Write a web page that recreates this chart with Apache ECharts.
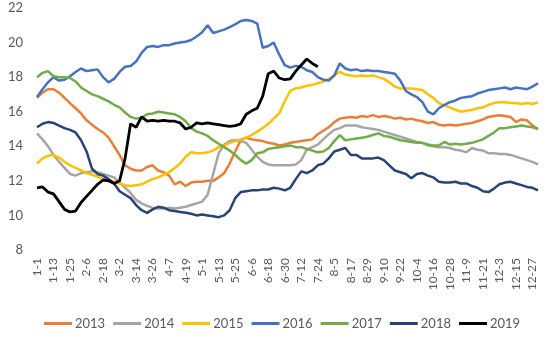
<!DOCTYPE html>
<html>
<head>
<meta charset="utf-8">
<script src="https://cdn.jsdelivr.net/npm/echarts@6/dist/echarts.min.js"></script>
<style>
  html, body { margin: 0; padding: 0; background: #fff; }
  #chart { width: 547px; height: 346px; }
</style>
</head>
<body>
<div id="chart"></div>
<script>
// Day labels every 4 days through the year (month-day)
const monthLengths = [31, 28, 31, 30, 31, 30, 31, 31, 30, 31, 30, 31];
const stepDays = 4;
const pointCount = 92;
function buildDates() {
  const out = [];
  for (let k = 0; k < pointCount; k++) {
    let d = k * stepDays, m = 0;
    while (d >= monthLengths[m]) { d -= monthLengths[m]; m++; }
    out.push((m + 1) + '-' + (d + 1));
  }
  return out;
}
const dates = buildDates();

const years = ['2013', '2014', '2015', '2016', '2017', '2018', '2019'];
const colors = ['#ED7D31', '#A5A5A5', '#FFC000', '#4472C4', '#70AD47', '#264478', '#000000'];

const s2013 = [16.8,17.1,17.3,17.3,17.1,16.8,16.5,16.2,15.9,15.5,15.25,15.0,14.8,14.5,14.0,13.5,12.9,12.7,12.6,12.6,
  12.8,12.9,12.6,12.5,12.3,11.8,11.95,11.7,11.9,11.95,11.95,12.0,12.0,12.2,12.45,13.0,13.7,14.35,14.5,14.4,
  14.35,14.3,14.2,14.15,14.05,14.1,14.2,14.25,14.3,14.35,14.4,14.7,14.9,15.1,15.4,15.6,15.65,15.7,15.65,15.75,
  15.7,15.8,15.7,15.75,15.7,15.6,15.65,15.55,15.6,15.5,15.45,15.35,15.4,15.25,15.2,15.25,15.2,15.25,15.3,15.35,
  15.45,15.55,15.7,15.75,15.8,15.75,15.7,15.4,15.55,15.5,15.2,15.0];
const s2014 = [14.75,14.4,14.0,13.5,13.1,12.75,12.4,12.3,12.45,12.5,12.55,12.5,12.4,12.3,12.2,11.9,11.6,11.3,10.9,10.7,
  10.55,10.45,10.4,10.4,10.45,10.4,10.45,10.5,10.6,10.7,10.8,11.2,12.4,13.6,14.1,14.3,14.35,14.3,14.2,13.8,
  13.4,13.1,12.95,12.9,12.9,12.9,12.9,12.95,13.2,13.8,13.95,14.1,14.4,14.7,14.95,15.05,15.2,15.2,15.2,15.1,
  15.05,15.0,14.95,14.85,14.75,14.65,14.55,14.45,14.35,14.25,14.2,14.05,14.0,13.95,13.95,13.9,13.8,13.75,13.65,13.9,
  13.8,13.75,13.6,13.6,13.55,13.55,13.5,13.4,13.3,13.2,13.1,12.95];
const s2015 = [13.0,13.3,13.45,13.5,13.35,13.1,12.9,12.75,12.6,12.45,12.35,12.25,12.1,12.05,11.95,11.85,11.75,11.7,11.75,11.8,
  11.95,12.1,12.2,12.35,12.5,12.75,13.0,13.4,13.65,13.6,13.6,13.65,13.75,13.95,14.05,14.2,14.3,14.4,14.5,14.65,
  14.85,15.05,15.3,15.6,15.9,16.6,17.2,17.35,17.4,17.5,17.55,17.65,17.75,17.9,18.1,18.3,18.15,18.1,18.05,18.1,
  18.05,18.1,18.0,17.9,17.7,17.45,17.35,17.35,17.35,17.3,17.25,17.0,16.8,16.5,16.35,16.25,16.1,16.0,16.05,16.1,
  16.2,16.25,16.4,16.5,16.55,16.55,16.5,16.5,16.45,16.5,16.45,16.55];
const s2016 = [16.85,17.3,17.7,18.0,17.8,17.85,18.05,18.3,18.5,18.35,18.4,18.45,18.0,17.7,17.9,18.3,18.6,18.65,18.9,19.4,
  19.75,19.8,19.75,19.85,19.85,19.95,20.0,20.05,20.15,20.35,20.6,21.0,20.55,20.65,20.75,20.9,21.05,21.25,21.3,21.25,
  21.1,19.7,19.8,20.0,19.3,18.7,18.55,18.65,18.6,18.4,18.3,18.0,17.85,17.8,18.1,18.8,18.5,18.4,18.45,18.35,
  18.4,18.35,18.35,18.3,18.25,18.2,17.8,17.2,17.0,16.85,16.55,16.0,15.85,16.2,16.4,16.55,16.65,16.8,16.85,16.9,
  17.05,17.15,17.25,17.3,17.35,17.4,17.3,17.4,17.35,17.3,17.45,17.65];
const s2017 = [18.0,18.25,18.35,18.05,18.0,18.0,17.95,17.75,17.4,17.2,17.0,16.9,16.75,16.6,16.4,16.25,15.95,15.7,15.6,15.65,
  15.85,15.9,16.0,15.95,15.9,15.85,15.7,15.45,15.05,14.85,14.75,14.6,14.35,14.15,13.95,13.75,13.5,13.2,13.0,13.2,
  13.6,13.65,13.85,13.9,13.95,14.0,14.05,13.95,13.95,13.85,13.75,13.65,13.7,13.9,14.3,14.65,14.35,14.4,14.45,14.5,
  14.55,14.65,14.75,14.6,14.55,14.45,14.35,14.3,14.25,14.2,14.2,14.1,14.05,14.05,14.25,14.1,14.15,14.1,14.15,14.2,
  14.3,14.4,14.6,14.8,15.05,15.05,15.1,15.15,15.2,15.15,15.1,15.0];
const s2018 = [15.1,15.3,15.4,15.35,15.2,15.05,14.95,14.8,14.35,13.7,12.7,12.4,12.3,12.1,11.85,11.4,11.2,11.0,10.6,10.3,
  10.15,10.35,10.5,10.45,10.3,10.25,10.2,10.15,10.1,10.0,10.05,10.0,9.95,9.9,10.0,10.3,11.0,11.35,11.4,11.45,
  11.45,11.5,11.5,11.6,11.55,11.45,11.6,12.1,12.55,12.45,12.6,12.9,13.0,13.3,13.7,13.8,13.9,13.5,13.5,13.3,
  13.3,13.3,13.35,13.2,12.9,12.6,12.5,12.4,12.15,12.4,12.45,12.3,12.2,11.95,11.9,11.9,11.95,11.85,11.85,11.7,
  11.6,11.4,11.35,11.55,11.8,11.9,11.95,11.85,11.75,11.65,11.6,11.45];
const s2019 = [11.6,11.65,11.35,11.25,10.8,10.35,10.2,10.25,10.75,11.1,11.45,11.8,12.05,12.0,11.85,12.0,13.3,15.3,15.1,15.7,
  15.45,15.5,15.45,15.5,15.45,15.45,15.35,15.0,15.1,15.35,15.3,15.35,15.3,15.25,15.2,15.15,15.2,15.3,15.85,16.05,
  16.2,16.9,18.2,18.35,17.95,17.85,17.9,18.35,18.7,19.05,18.8,18.6];

const seriesData = [s2013, s2014, s2015, s2016, s2017, s2018, s2019];
const yTicks = { min: 8, max: 22, interval: 2 };

const FONT = 'Lato, "Liberation Sans", sans-serif';
const TEXT = '#595959';

const chart = echarts.init(document.getElementById('chart'), null, { renderer: 'canvas' });
chart.setOption({
  animation: false,
  backgroundColor: '#ffffff',
  color: colors,
  grid: { left: 37, right: 9, top: 8, bottom: 96, containLabel: false },
  legend: {
    data: years,
    bottom: 11,
    left: 39,
    icon: 'rect',
    itemWidth: 28,
    itemHeight: 3,
    itemGap: 8,
    textStyle: { fontFamily: FONT, fontSize: 13, color: TEXT, padding: [0, 0, 0, -2] }
  },
  xAxis: {
    type: 'category',
    data: dates,
    boundaryGap: false,
    axisLine: { show: false },
    axisTick: { show: false },
    axisLabel: {
      interval: 2,
      rotate: 90,
      margin: 8,
      fontFamily: FONT,
      fontSize: 12,
      color: TEXT
    },
    splitLine: { show: false }
  },
  yAxis: {
    type: 'value',
    min: yTicks.min,
    max: yTicks.max,
    interval: yTicks.interval,
    axisLine: { show: false },
    axisTick: { show: false },
    splitLine: { show: false },
    axisLabel: { margin: 14, fontFamily: FONT, fontSize: 13, color: TEXT }
  },
  series: years.map((y, k) => ({
    name: y,
    type: 'line',
    data: seriesData[k],
    showSymbol: false,
    symbol: 'none',
    lineStyle: { width: k === 6 ? 2.8 : 2.5, color: colors[k] },
    emphasis: { disabled: true }
  }))
});
</script>
</body>
</html>
